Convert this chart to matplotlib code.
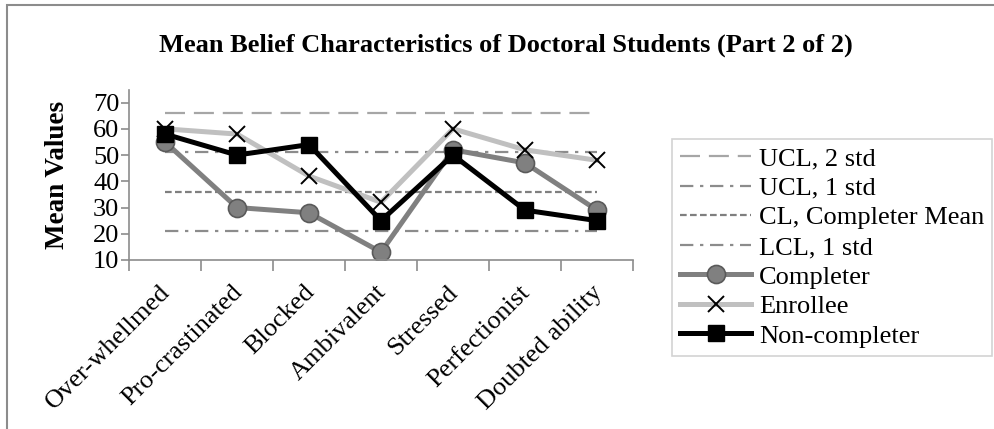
import numpy as np
import matplotlib.pyplot as plt
import matplotlib.transforms as mtransforms
from matplotlib.patches import Rectangle

plt.rcParams['font.family'] = ['Liberation Serif', 'DejaVu Serif']

categories = ['Over-whellmed', 'Pro-crastinated', 'Blocked', 'Ambivalent',
              'Stressed', 'Perfectionist', 'Doubted ability']
completer = [55, 30, 28, 13, 52, 47, 29]
enrollee = [60, 58, 42, 32, 60, 52, 48]
non_completer = [58, 50, 54, 25, 50, 29, 25]

ucl_2std = 66
ucl_1std = 51
cl_mean = 36
lcl_1std = 21

x = np.arange(len(categories))

fig = plt.figure(figsize=(9.94, 4.29), dpi=100)
ax = fig.add_axes([129 / 994, 1 - 260 / 429, 504 / 994, 170 / 429])

# control limit lines
ax.plot(x, [ucl_2std] * len(x), color='#a6a6a6', lw=1.6,
        dashes=(9, 4), label='UCL, 2 std')
ax.plot(x, [ucl_1std] * len(x), color='#8c8c8c', lw=1.6,
        dashes=(6, 3, 1.5, 3), label='UCL, 1 std')
ax.plot(x, [cl_mean] * len(x), color='#7f7f7f', lw=1.6,
        dashes=(3, 1.5), label='CL, Completer Mean')
ax.plot(x, [lcl_1std] * len(x), color='#8c8c8c', lw=1.6,
        dashes=(6, 3, 1.5, 3), label='LCL, 1 std')

# series
ax.plot(x, completer, color='#808080', lw=3.6, marker='o', ms=13,
        mfc='#808080', mec='#5a5a5a', mew=1.2, label='Completer')
ax.plot(x, enrollee, color='#c0c0c0', lw=3.6, marker='x', ms=11,
        mec='black', mew=1.4, label='Enrollee')
ax.plot(x, non_completer, color='black', lw=3.6, marker='s', ms=11,
        mfc='black', mec='black', label='Non-completer')

ax.set_xlim(-0.5, len(x) - 0.5)
ax.set_ylim(10, 74.8)
ax.set_yticks(range(10, 71, 10))
ax.set_xticks(x)
ax.set_xticklabels(categories, rotation=45, ha='right',
                   rotation_mode='anchor', fontsize=19)
ax.set_xticks(np.arange(-0.5, len(x), 1), minor=True)
ax.tick_params(axis='x', which='major', length=0, pad=8)
ax.tick_params(axis='x', which='minor', length=8, color='#8c8c8c', width=1.2)
ax.tick_params(axis='y', length=6, color='#8c8c8c', width=1.2,
               labelsize=19, pad=1)

# nudge the slanted category labels a little down and left
shift = mtransforms.ScaledTranslation(-6 / 100, -10 / 100, fig.dpi_scale_trans)
for lbl in ax.get_xticklabels():
    lbl.set_transform(lbl.get_transform() + shift)

for side in ['top', 'right']:
    ax.spines[side].set_visible(False)
for side in ['left', 'bottom']:
    ax.spines[side].set_color('#8c8c8c')
    ax.spines[side].set_linewidth(1.2)

fig.text(58 / 994, 1 - 175 / 429, 'Mean Values', rotation=90,
         ha='center', va='center', fontsize=19.5, fontweight='bold')
fig.text(506 / 994, 1 - 45 / 429,
         'Mean Belief Characteristics of Doctoral Students (Part 2 of 2)',
         ha='center', va='center', fontsize=19, fontweight='bold')

leg = fig.legend(loc='upper left', bbox_to_anchor=(672 / 994, 1 - 139 / 429),
                 fontsize=19, handlelength=2.7, handletextpad=0.3,
                 labelspacing=0.23, borderpad=0.3, borderaxespad=0,
                 fancybox=False, frameon=True)
leg.get_frame().set_edgecolor('#c8c8c8')
leg.get_frame().set_linewidth(1.2)

# outer chart border
fig.patches.append(Rectangle((7 / 994, -0.1), 1.2, 1.1 - 5 / 429,
                             transform=fig.transFigure, fill=False,
                             edgecolor='#8c8c8c', lw=1.5, zorder=0))

fig.savefig('out.png', dpi=100)
